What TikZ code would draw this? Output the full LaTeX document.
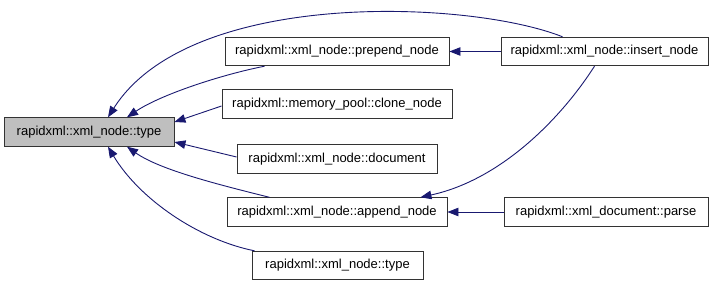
\documentclass[tikz,border=0pt]{standalone}
\usepackage{fontspec}
\setmainfont{Liberation Sans}
\usetikzlibrary{arrows.meta}
\definecolor{callblue}{HTML}{191970}
\definecolor{selfgrey}{HTML}{BFBFBF}

\begin{document}
\begin{tikzpicture}
[x=1pt, y=-1pt,
 nodes={draw=black!80, fill=white, line width=.9pt, font=\fontsize{13}{15}\selectfont,
        minimum height=28.5pt, inner sep=0pt},
 >={Triangle[length=11pt,width=8.5pt]}, line width=.9pt]
\useasboundingbox (0,0) rectangle (717,286);

% callers of xml_node::type
\node (type) at (89,132) [fill=selfgrey, minimum width=170pt] {rapidxml::xml\_node::type};
\node (prepend) at (337,51.5) [minimum width=224pt] {rapidxml::xml\_node::prepend\_node};
\node (clone) at (337,104) [minimum width=230pt] {rapidxml::memory\_pool::clone\_node};
\node (document) at (337,159) [minimum width=200pt] {rapidxml::xml\_node::document};
\node (append) at (337,212) [minimum width=220pt] {rapidxml::xml\_node::append\_node};
\node (typetwo) at (337.5,265.5) [minimum width=171pt] {rapidxml::xml\_node::type};
\node (insert) at (604.5,51.5) [minimum width=207pt] {rapidxml::xml\_node::insert\_node};
\node (parse) at (606,212) [minimum width=204pt] {rapidxml::xml\_document::parse};

\begin{scope}[draw=callblue, ->]
\draw ([xshift=62pt]insert.north west) .. controls (470,0) and (190,-12) .. ([xshift=19pt]type.north);
\draw ([xshift=40pt]prepend.south west) .. controls (220,75) and (160,95) .. ([xshift=38pt]type.north);
\draw ([yshift=-2pt]clone.west) -- ([yshift=10pt]type.east);
\draw ([yshift=2pt]document.west) -- ([yshift=-10pt]type.east);
\draw ([xshift=43pt]append.north west) .. controls (220,185) and (160,170) .. ([xshift=38pt]type.south);
\draw ([xshift=3pt]typetwo.north west) .. controls (200,240) and (140,200) .. ([xshift=19pt]type.south);
\draw (insert.west) -- (prepend.east);
\draw ([xshift=-10pt]insert.south) .. controls (560,120) and (500,180) .. ([xshift=-27pt]append.north east);
\draw (parse.west) -- (append.east);
\end{scope}
\end{tikzpicture}
\end{document}
